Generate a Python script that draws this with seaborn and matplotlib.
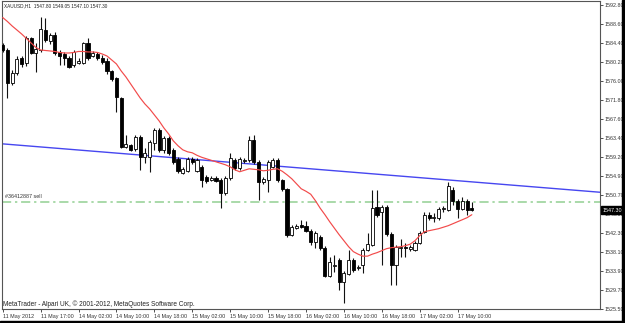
import numpy as np
import pandas as pd
import matplotlib
matplotlib.use("Agg")
import matplotlib.pyplot as plt
import matplotlib.transforms as mtransforms
from matplotlib.patches import Rectangle
import seaborn as sns

# ---------------- data (XAUUSD H1) ----------------
opens = [1583.95, 1582.84, 1575.54, 1577.75, 1581.07, 1579.96, 1585.50, 1582.17, 1582.84, 1587.27,
         1584.83, 1586.16, 1582.40, 1581.95, 1581.07, 1579.52, 1579.96, 1579.96, 1584.39, 1581.51,
         1581.95, 1581.07, 1580.40, 1578.19, 1576.64, 1572.21, 1561.36, 1561.81, 1560.92, 1563.58,
         1559.15, 1559.15, 1562.25, 1565.13, 1560.70, 1563.36, 1560.70, 1558.71, 1555.61, 1556.05,
         1558.71, 1556.05, 1556.93, 1554.72, 1554.06, 1554.50, 1554.06, 1551.18, 1554.50, 1558.47,
         1556.71, 1558.27, 1558.47, 1562.91, 1558.04, 1553.62, 1554.06, 1556.93, 1558.47, 1554.06,
         1552.06, 1541.88, 1543.43, 1544.09, 1543.87, 1542.77, 1540.33, 1541.44, 1539.00, 1532.80,
         1535.01, 1536.35, 1531.47, 1533.25, 1536.35, 1534.58, 1535.24, 1538.56, 1539.67, 1548.08,
         1546.97, 1548.08, 1542.10, 1535.24, 1539.00, 1539.22, 1538.78, 1538.56, 1540.11, 1542.55,
         1546.31, 1545.65, 1545.65, 1547.64, 1547.42, 1551.84, 1549.41, 1547.64, 1549.41, 1547.80]
highs = [1584.39, 1583.28, 1578.41, 1581.51, 1581.51, 1585.94, 1585.72, 1584.39, 1590.15, 1589.93,
         1586.60, 1586.82, 1582.84, 1582.40, 1581.51, 1582.84, 1581.07, 1584.61, 1585.50, 1582.62,
         1582.40, 1581.73, 1581.07, 1578.41, 1576.86, 1572.43, 1564.02, 1562.03, 1564.02, 1564.02,
         1561.14, 1562.91, 1565.57, 1565.57, 1563.80, 1563.80, 1561.14, 1559.15, 1556.93, 1559.15,
         1559.15, 1558.93, 1557.38, 1555.16, 1554.94, 1554.94, 1554.50, 1554.94, 1560.04, 1558.93,
         1559.15, 1558.93, 1563.80, 1564.02, 1558.47, 1554.72, 1558.47, 1558.93, 1558.93, 1554.28,
         1552.28, 1544.09, 1544.31, 1545.20, 1544.98, 1543.21, 1542.77, 1541.88, 1539.44, 1537.01,
         1537.45, 1536.79, 1533.91, 1538.56, 1536.79, 1535.24, 1539.00, 1542.32, 1551.84, 1551.84,
         1548.52, 1548.52, 1542.55, 1539.67, 1541.00, 1540.11, 1539.67, 1540.55, 1542.77, 1546.97,
         1546.97, 1546.75, 1548.08, 1548.30, 1553.62, 1552.51, 1549.85, 1550.29, 1549.85, 1549.05]
lows = [1582.40, 1572.21, 1575.09, 1577.31, 1579.08, 1579.30, 1581.95, 1577.97, 1582.40, 1584.61,
        1584.17, 1581.73, 1579.52, 1579.52, 1578.86, 1579.08, 1579.74, 1579.74, 1580.63, 1581.29,
        1580.63, 1579.74, 1577.53, 1575.98, 1569.11, 1561.14, 1561.14, 1560.48, 1560.48, 1556.27,
        1557.82, 1555.83, 1560.70, 1560.26, 1560.04, 1559.60, 1557.60, 1555.61, 1555.39, 1555.83,
        1557.60, 1555.83, 1552.51, 1553.39, 1553.84, 1553.62, 1547.86, 1550.74, 1554.06, 1556.27,
        1556.27, 1557.82, 1558.04, 1557.60, 1549.63, 1553.17, 1551.40, 1556.71, 1553.62, 1551.62,
        1541.44, 1541.66, 1543.21, 1543.43, 1542.55, 1539.67, 1539.00, 1538.56, 1532.58, 1532.58,
        1533.69, 1529.70, 1526.82, 1533.02, 1533.69, 1534.13, 1533.47, 1538.34, 1539.44, 1545.87,
        1535.24, 1541.66, 1530.81, 1530.81, 1537.01, 1537.01, 1538.34, 1538.34, 1539.89, 1542.32,
        1545.20, 1544.76, 1545.20, 1546.97, 1547.20, 1548.52, 1545.65, 1547.42, 1546.31, 1547.10]
closes = [1582.84, 1575.54, 1577.75, 1580.85, 1579.74, 1585.50, 1582.17, 1583.06, 1587.49, 1585.05,
          1586.16, 1582.17, 1581.51, 1581.07, 1579.08, 1582.40, 1580.40, 1584.39, 1581.07, 1582.17,
          1581.07, 1580.18, 1578.19, 1576.42, 1572.43, 1561.36, 1562.03, 1560.70, 1563.58, 1559.15,
          1560.04, 1562.47, 1565.13, 1560.70, 1563.36, 1560.04, 1558.04, 1556.05, 1556.49, 1558.71,
          1558.04, 1558.47, 1554.06, 1553.84, 1554.50, 1553.84, 1551.18, 1554.50, 1558.93, 1556.71,
          1558.71, 1558.47, 1562.91, 1558.04, 1553.62, 1554.28, 1558.04, 1558.47, 1554.06, 1552.06,
          1541.88, 1543.65, 1543.87, 1543.65, 1542.77, 1540.33, 1542.32, 1539.00, 1532.80, 1535.90,
          1535.24, 1531.47, 1533.47, 1536.35, 1534.13, 1534.80, 1538.56, 1539.89, 1547.86, 1546.31,
          1548.08, 1542.10, 1535.24, 1539.22, 1539.22, 1539.00, 1539.22, 1540.11, 1542.32, 1546.31,
          1545.65, 1545.87, 1547.64, 1547.86, 1552.73, 1549.41, 1547.64, 1549.41, 1547.42, 1547.30]
ma_values = [1590.04, 1589.15, 1588.15, 1587.27, 1586.38, 1585.39, 1584.39, 1583.39, 1582.84, 1582.73,
             1582.62, 1582.51, 1582.29, 1582.17, 1582.17, 1582.29, 1582.51, 1582.51, 1582.40, 1582.40,
             1582.29, 1581.95, 1581.51, 1580.63, 1579.74, 1578.19, 1576.86, 1575.31, 1573.76, 1572.21,
             1570.88, 1569.78, 1568.45, 1567.12, 1565.57, 1564.24, 1562.69, 1561.59, 1560.70, 1560.26,
             1560.04, 1559.48, 1559.04, 1558.71, 1558.38, 1558.04, 1557.71, 1557.38, 1556.93, 1556.27,
             1555.83, 1556.16, 1556.49, 1556.38, 1556.27, 1556.05, 1556.16, 1556.38, 1556.49, 1555.94,
             1555.16, 1554.28, 1553.17, 1552.06, 1551.51, 1550.85, 1549.41, 1547.75, 1546.31, 1544.76,
             1543.32, 1541.88, 1540.55, 1539.22, 1538.12, 1537.56, 1537.12, 1537.12, 1537.56, 1537.90,
             1538.34, 1538.78, 1539.00, 1539.11, 1539.22, 1539.44, 1539.78, 1540.55, 1541.66, 1542.55,
             1542.77, 1542.99, 1543.21, 1543.54, 1543.87, 1544.31, 1544.76, 1545.20, 1545.65, 1546.31]
time_labels = ["11 May 2012", "11 May 17:00", "14 May 02:00", "14 May 10:00", "14 May 18:00",
               "15 May 02:00", "15 May 10:00", "15 May 18:00", "16 May 02:00", "16 May 10:00",
               "16 May 18:00", "17 May 02:00", "17 May 10:00"]
time_label_bars = [0, 8, 16, 24, 32, 40, 48, 56, 64, 72, 80, 88, 96]
price_ticks = [1592.80, 1588.60, 1584.40, 1580.20, 1576.00, 1571.80, 1567.60, 1563.40, 1559.20,
               1554.90, 1550.70, 1546.50, 1542.30, 1538.10, 1533.90, 1529.70, 1525.50]
trend_bars = [-0.15, 126.05]
trend_prices = [1562.03, 1551.29]
order_price = 1549.07
order_label = "#36412887 sell"
header_text = "XAUUSD,H1  1547.80 1549.05 1547.10 1547.30"
last_price = 1547.30
copyright_text = "MetaTrader - Alpari UK, \u00a9 2001-2012, MetaQuotes Software Corp."

# ---------------- style ----------------
sns.set_style("white")
plt.rcParams['font.family'] = ['Liberation Sans', 'DejaVu Sans']

W, H = 625, 323
fig = plt.figure(figsize=(W / 100, H / 100), dpi=100)
fig.patch.set_facecolor('white')
ax = fig.add_axes([2 / W, 14 / H, 598 / W, 308 / H])
ax.set_facecolor('white')

df = pd.DataFrame({"bar": np.arange(len(opens)), "open": opens, "high": highs,
                   "low": lows, "close": closes, "ma": ma_values})
bull = (df["close"] >= df["open"]).values
body_bottom = np.minimum(df["open"], df["close"]).values
body_h = np.maximum(np.abs(df["close"] - df["open"]).values, 0.15)

# wicks
ax.vlines(df["bar"], df["low"], df["high"], color='#111111', lw=0.8, zorder=2)
# bodies
ax.bar(df["bar"][bull], body_h[bull], bottom=body_bottom[bull], width=0.66,
       color='white', edgecolor='black', linewidth=0.6, zorder=3)
ax.bar(df["bar"][~bull], body_h[~bull], bottom=body_bottom[~bull], width=0.66,
       color='black', edgecolor='black', linewidth=0.6, zorder=3)

# moving average
sns.lineplot(data=df, x="bar", y="ma", ax=ax, color='#f24a4a', lw=0.85, zorder=4)
# trend line
sns.lineplot(x=trend_bars, y=trend_prices, ax=ax, color='#4646f0', lw=1.0, zorder=1)
# order line
ax.axhline(order_price, color='#92cf92', lw=1.1, linestyle=(0, (6, 2.5, 1.5, 2.5)), zorder=1)
ax.text(0.5, order_price + 1.2, order_label, fontsize=3.9, color='#333333',
        va='center', ha='left', zorder=5)

ax.set_xlim(-0.15, 126.05)
ax.set_ylim(1525.4, 1593.7)
ax.set_xlabel("")
ax.set_ylabel("")

ax.yaxis.tick_right()
ax.set_yticks(price_ticks)
ax.set_yticklabels([f"{p:.2f}" for p in price_ticks])
ax.tick_params(axis='y', which='both', right=True, left=False, length=2, width=0.6,
               pad=1.2, labelsize=3.9, colors='#333333')
ax.set_xticks(time_label_bars)
ax.set_xticklabels(time_labels, ha='left')
ax.tick_params(axis='x', which='both', bottom=True, length=2, width=0.6,
               pad=1.5, labelsize=3.9, colors='#333333')
for lab in ax.get_xticklabels():
    lab.set_horizontalalignment('left')

for s in ax.spines.values():
    s.set_color('#555555')
    s.set_linewidth(0.8)
    s.set_visible(True)

# current price box
tr = mtransforms.blended_transform_factory(ax.transAxes, ax.transData)
ax.text(1.0 + 2.5 / 598, last_price, f"{last_price:.2f}", transform=tr, fontsize=3.9,
        color='white', va='center', ha='left', zorder=10, clip_on=False,
        bbox=dict(boxstyle='square,pad=0.3', fc='black', ec='black'))

# header and copyright
fig.text(4 / W, 1 - 6 / H, header_text, fontsize=3.4, color='#222222', va='center', ha='left')
ax.text(0.002, 0.004, copyright_text, transform=ax.transAxes, fontsize=4.7,
        color='#222222', va='bottom', ha='left')

# dark frame at right and bottom of the picture
fig.add_artist(Rectangle((622 / W, 0), 3 / W, 1, transform=fig.transFigure,
                         color='black', zorder=20))
fig.add_artist(Rectangle((0, 0), 1, 2 / H, transform=fig.transFigure,
                         color='black', zorder=20))

fig.savefig("out.png", dpi=100, facecolor='white')
